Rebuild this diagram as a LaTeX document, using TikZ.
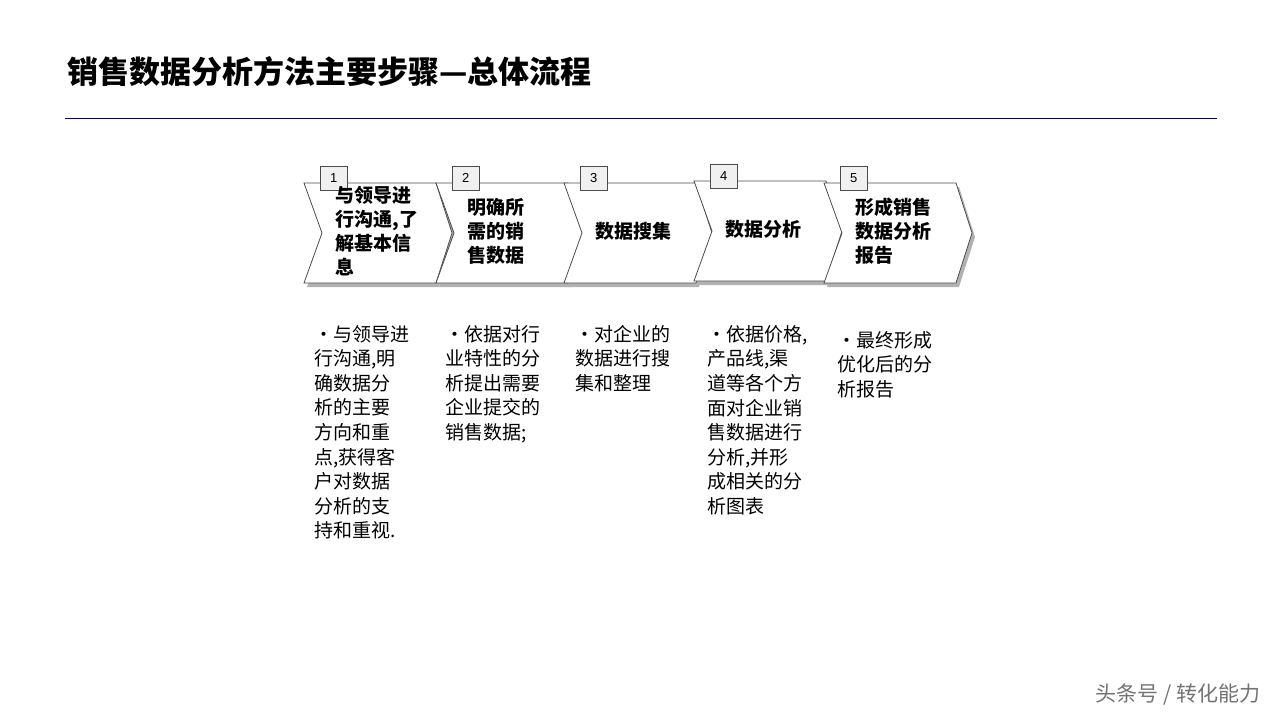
\documentclass[tikz,border=0pt]{standalone}
\usepackage{fontspec}
\setmainfont{Liberation Sans}
\newfontfamily\cjk{Noto Sans CJK SC}
\usetikzlibrary{positioning}
\tikzset{
  chev/.style={draw=black!70, fill=white, line width=0.8pt},
  chevshadow/.style={fill=black!30, draw=none},
  numbox/.style={draw=black!70, fill=black!6, minimum width=27pt, minimum height=24pt, inner sep=0pt, font=\fontsize{13}{13}\selectfont},
  steptext/.style={font=\cjk\bfseries\fontsize{19}{24}\selectfont, align=left, anchor=west},
  desctext/.style={font=\cjk\fontsize{19}{24.6}\selectfont, align=left, anchor=north west, inner sep=0pt},
}
\begin{document}
\begin{tikzpicture}[x=1pt, y=-1pt]
	\useasboundingbox (0,0) rectangle (1280,720);
	%title
	\node[anchor=west, font=\cjk\bfseries\fontsize{31}{31}\selectfont] (title) at (64,72) {销售数据分析方法主要步骤—总体流程};
	\draw[color=blue!30!black, line width=0.8pt] (65,118) -- (1217,118);
	
	%chevrons
	\foreach \x/\yt/\n/\txt [count=\i] in {304/183/1/{与领导进\\行沟通,了\\解基本信\\息}, 436/183/2/{明确所\\需的销\\售数据}, 564/183/3/{数据搜集}, 694/181/4/{数据分析}, 824/183/5/{形成销售\\数据分析\\报告}}{
		\fill[chevshadow] (\x+3,\yt+4) -- ++(132,0) -- ++(16,50) -- ++(-16,50) -- ++(-132,0) -- ++(18,-50) -- cycle;
		\draw[chev] (\x,\yt) coordinate (c\i) -- ++(132,0) -- ++(16,50) -- ++(-16,50) -- ++(-132,0) -- ++(18,-50) -- cycle;
		\node[numbox, anchor=south west] (n\i) at (\x+16,\yt+7) {\n};
		\node[steptext] (s\i) at (\x+28,\yt+48) {\txt};
	}
	\path (c4) -- ++(0,0);
	
	%descriptions
	\node[desctext] (d1) at (314,325) {•与领导进\\行沟通,明\\确数据分\\析的主要\\方向和重\\点,获得客\\户对数据\\分析的支\\持和重视.};
	\node[desctext] (d2) at (445,325) {•依据对行\\业特性的分\\析提出需要\\企业提交的\\销售数据;};
	\node[desctext] (d3) at (575,325) {•对企业的\\数据进行搜\\集和整理};
	\node[desctext] (d4) at (707,325) {•依据价格,\\产品线,渠\\道等各个方\\面对企业销\\售数据进行\\分析,并形\\成相关的分\\析图表};
	\node[desctext] (d5) at (837,331) {•最终形成\\优化后的分\\析报告};
	
	%watermark
	\node[anchor=east, text=black!55, font=\cjk\fontsize{21}{21}\selectfont] (wm) at (1264,695) {头条号 / 转化能力};
\end{tikzpicture}
\end{document}
